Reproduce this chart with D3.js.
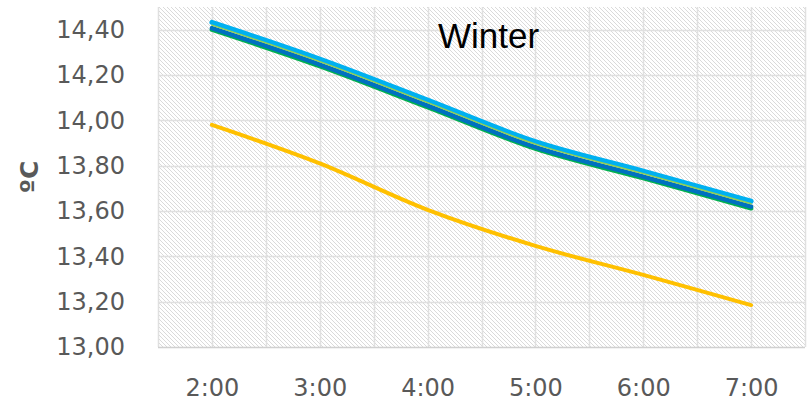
<!DOCTYPE html>
<html>
<head>
<meta charset="utf-8">
<script src="https://cdn.jsdelivr.net/npm/d3@7"></script>
<style>
  body { margin: 0; background: #fff; }
  svg { display: block; }
</style>
</head>
<body>
<script>
// hours on the x axis
const hours = ["2:00", "3:00", "4:00", "5:00", "6:00", "7:00"];
const yTicks = [13.0, 13.2, 13.4, 13.6, 13.8, 14.0, 14.2, 14.4];

// series, drawn bottom to top
const seriesYellow = [13.98, 13.81, 13.605, 13.446, 13.318, 13.185];
const seriesGreen = [14.400, 14.239, 14.058, 13.875, 13.745, 13.612];
const seriesDarkBlue = [14.407, 14.246, 14.065, 13.882, 13.752, 13.619];
const seriesLightGreen = [14.420, 14.259, 14.078, 13.895, 13.765, 13.632];
const seriesLightBlue = [14.432, 14.270, 14.089, 13.906, 13.776, 13.643];

const series = [
    {values: seriesYellow, color: "#FFC000", width: 4},
    {values: seriesGreen, color: "#00B050", width: 4.5},
    {values: seriesDarkBlue, color: "#0070C0", width: 4.5},
    {values: seriesLightBlue, color: "#00B0F0", width: 5},
    {values: seriesLightGreen, color: "#92D050", width: 1.5}
];

const W = 811, H = 404;
const m = {left: 158, right: 6, top: 7, bottom: 57};

const svg = d3.select("body").append("svg")
    .attr("width", W).attr("height", H);

const x = d3.scalePoint().domain(hours)
    .range([m.left, W - m.right]).padding(0.5);
const y = d3.scaleLinear().domain([13, 14.5])
    .range([H - m.bottom, m.top]);

// hatched plot background
const defs = svg.append("defs");
const pat = defs.append("pattern").attr("id", "hatch")
    .attr("patternUnits", "userSpaceOnUse")
    .attr("width", 4).attr("height", 4);
pat.selectAll("rect").data([0, 1, 2, 3]).join("rect")
    .attr("x", d => d).attr("y", d => d)
    .attr("width", 1).attr("height", 1)
    .attr("fill", "#dadada");

svg.append("rect")
    .attr("x", m.left).attr("y", m.top)
    .attr("width", W - m.right - m.left)
    .attr("height", H - m.bottom - m.top)
    .attr("fill", "url(#hatch)");

// gridlines
const step = x.step();
const vx = d3.range(0, hours.length * 2 + 1).map(k => m.left + k * step / 2);
svg.append("g").selectAll("line").data(vx).join("line")
    .attr("x1", d => Math.round(d) + 0.5).attr("x2", d => Math.round(d) + 0.5)
    .attr("y1", m.top).attr("y2", H - m.bottom)
    .attr("stroke", "#e0e0e0").attr("stroke-width", 1.5);

svg.append("g").selectAll("line").data(yTicks).join("line")
    .attr("x1", m.left).attr("x2", W - m.right)
    .attr("y1", d => Math.round(y(d)) + 0.5).attr("y2", d => Math.round(y(d)) + 0.5)
    .attr("stroke", d => d === 13 ? "#d0d0d0" : "#e0e0e0").attr("stroke-width", 1.5);

// axes
const yAxis = svg.append("g")
    .attr("transform", `translate(${m.left - 30},0)`)
    .call(d3.axisLeft(y).tickValues(yTicks).tickSize(0)
        .tickFormat(d => d3.format(".2f")(d).replace(".", ",")));
const xAxis = svg.append("g")
    .attr("transform", `translate(0,${H - m.bottom + 29})`)
    .call(d3.axisBottom(x).tickSize(0));
[yAxis, xAxis].forEach(a => {
    a.select(".domain").remove();
    a.selectAll("text")
        .attr("font-family", "DejaVu Sans")
        .attr("font-size", 24)
        .attr("fill", "#595959");
});

svg.append("text")
    .attr("transform", "translate(38,177) rotate(-90)")
    .attr("text-anchor", "middle")
    .attr("font-family", "DejaVu Sans")
    .attr("font-weight", "bold")
    .attr("font-size", 25)
    .attr("fill", "#595959")
    .text("ºC");

svg.append("text")
    .attr("x", 438).attr("y", 48)
    .attr("font-family", "Liberation Sans")
    .attr("font-size", 35)
    .attr("fill", "#000")
    .text("Winter");

// lines
const line = d3.line()
    .x((d, i) => x(hours[i]))
    .y(d => y(d))
    .curve(d3.curveCardinal.tension(0));

svg.append("g").selectAll("path").data(series).join("path")
    .attr("d", d => line(d.values))
    .attr("fill", "none")
    .attr("stroke", d => d.color)
    .attr("stroke-width", d => d.width)
    .attr("stroke-linecap", "round")
    .attr("stroke-linejoin", "round");
</script>
</body>
</html>
